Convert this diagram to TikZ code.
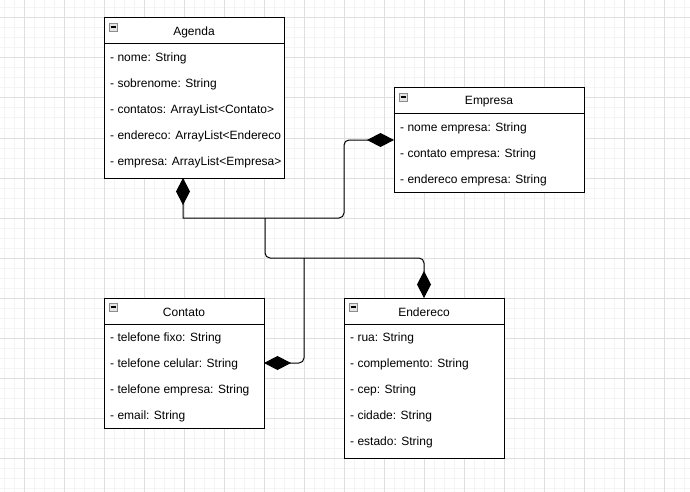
\documentclass[tikz,border=0pt]{standalone}
\usepackage{fontspec}
\setmainfont{Liberation Sans}
\usetikzlibrary{arrows.meta}
\definecolor{gridmajor}{HTML}{DFDFDF}
\definecolor{gridminor}{HTML}{F4F4F4}
\definecolor{iconfill}{HTML}{E4E4E4}
\definecolor{iconedge}{HTML}{8C8C8C}
\tikzset{
  classbox/.style={draw=black, line width=1pt, anchor=north west, inner sep=0pt, outer sep=0pt, fill=white},
  titletext/.style={font=\fontsize{12}{14}\selectfont, inner sep=0pt},
  rowtext/.style={font=\fontsize{12}{14}\selectfont, anchor=west, inner sep=0pt},
  minusicon/.style={draw=iconedge, fill=iconfill, minimum size=8pt, inner sep=0pt, line width=0.8pt},
  conn/.style={draw=black, line width=1pt},
  compo/.tip={Diamond[length=27pt,width=14pt,fill=black]},
}
\begin{document}
\begin{tikzpicture}[x=1pt,y=-1pt]
\useasboundingbox (0,0) rectangle (690,492);
\fill[white] (0,0) rectangle (690,492);
% grid
\foreach \gx in {4,14,...,684} \draw[gridminor, line width=1pt] (\gx,0) -- (\gx,492);
\foreach \gy in {8,18,...,488} \draw[gridminor, line width=1pt] (0,\gy) -- (690,\gy);
\foreach \gx in {24,64,...,664} \draw[gridmajor, line width=1pt] (\gx,0) -- (\gx,492);
\foreach \gy in {18,58,...,458} \draw[gridmajor, line width=1pt] (0,\gy) -- (690,\gy);

% Agenda
\node[classbox, minimum width=180pt, minimum height=160pt] (agenda) at (104,18) {};
\draw[line width=1pt] ([yshift=-26pt]agenda.north west) -- ([yshift=-26pt]agenda.north east);
\node[titletext] (agendaT) at ([yshift=-14pt]agenda.north) {Agenda};
\node[minusicon] (agendaI) at ([xshift=9pt,yshift=-9pt]agenda.north west) {};
\draw[line width=1.3pt] ([xshift=-2.5pt]agendaI.center) -- ([xshift=2.5pt]agendaI.center);
\foreach \t [count=\i] in {{- nome: String},{- sobrenome: String},{- contatos: ArrayList<Contato>},{- endereco: ArrayList<Endereco},{- empresa: ArrayList<Empresa>}}
  \node[rowtext] (agendaR\i) at ([xshift=6pt,yshift={-14pt-26pt*\i}]agenda.north west) {\t};

% Empresa
\node[classbox, minimum width=190pt, minimum height=104pt] (empresa) at (394,88) {};
\draw[line width=1pt] ([yshift=-26pt]empresa.north west) -- ([yshift=-26pt]empresa.north east);
\node[titletext] (empresaT) at ([yshift=-14pt]empresa.north) {Empresa};
\node[minusicon] (empresaI) at ([xshift=9pt,yshift=-9pt]empresa.north west) {};
\draw[line width=1.3pt] ([xshift=-2.5pt]empresaI.center) -- ([xshift=2.5pt]empresaI.center);
\foreach \t [count=\i] in {{- nome empresa: String},{- contato empresa: String},{- endereco empresa: String}}
  \node[rowtext] (empresaR\i) at ([xshift=6pt,yshift={-14pt-26pt*\i}]empresa.north west) {\t};

% Contato
\node[classbox, minimum width=160pt, minimum height=130pt] (contato) at (104,298) {};
\draw[line width=1pt] ([yshift=-26pt]contato.north west) -- ([yshift=-26pt]contato.north east);
\node[titletext] (contatoT) at ([yshift=-14pt]contato.north) {Contato};
\node[minusicon] (contatoI) at ([xshift=9pt,yshift=-9pt]contato.north west) {};
\draw[line width=1.3pt] ([xshift=-2.5pt]contatoI.center) -- ([xshift=2.5pt]contatoI.center);
\foreach \t [count=\i] in {{- telefone fixo: String},{- telefone celular: String},{- telefone empresa: String},{- email: String}}
  \node[rowtext] (contatoR\i) at ([xshift=6pt,yshift={-14pt-26pt*\i}]contato.north west) {\t};

% Endereco
\node[classbox, minimum width=160pt, minimum height=160pt] (endereco) at (344,298) {};
\draw[line width=1pt] ([yshift=-26pt]endereco.north west) -- ([yshift=-26pt]endereco.north east);
\node[titletext] (enderecoT) at ([yshift=-14pt]endereco.north) {Endereco};
\node[minusicon] (enderecoI) at ([xshift=9pt,yshift=-9pt]endereco.north west) {};
\draw[line width=1.3pt] ([xshift=-2.5pt]enderecoI.center) -- ([xshift=2.5pt]enderecoI.center);
\foreach \t [count=\i] in {{- rua: String},{- complemento: String},{- cep: String},{- cidade: String},{- estado: String}}
  \node[rowtext] (enderecoR\i) at ([xshift=6pt,yshift={-14pt-26pt*\i}]endereco.north west) {\t};

% connectors
\coordinate (j1) at (265,218);
\coordinate (j2) at (304,258);
\draw[conn, compo-compo] ([xshift=79pt]agenda.south west) -- (183,218)
  [rounded corners=5pt] -- (344,218) -- (344,140) -- (empresa.west);
\draw[conn, rounded corners=5pt, -compo] (j1) -- (265,258) -- (424,258) -- (endereco.north);
\draw[conn, rounded corners=5pt, -compo] (j2) -- (304,363) -- (contato.east);
\end{tikzpicture}
\end{document}
